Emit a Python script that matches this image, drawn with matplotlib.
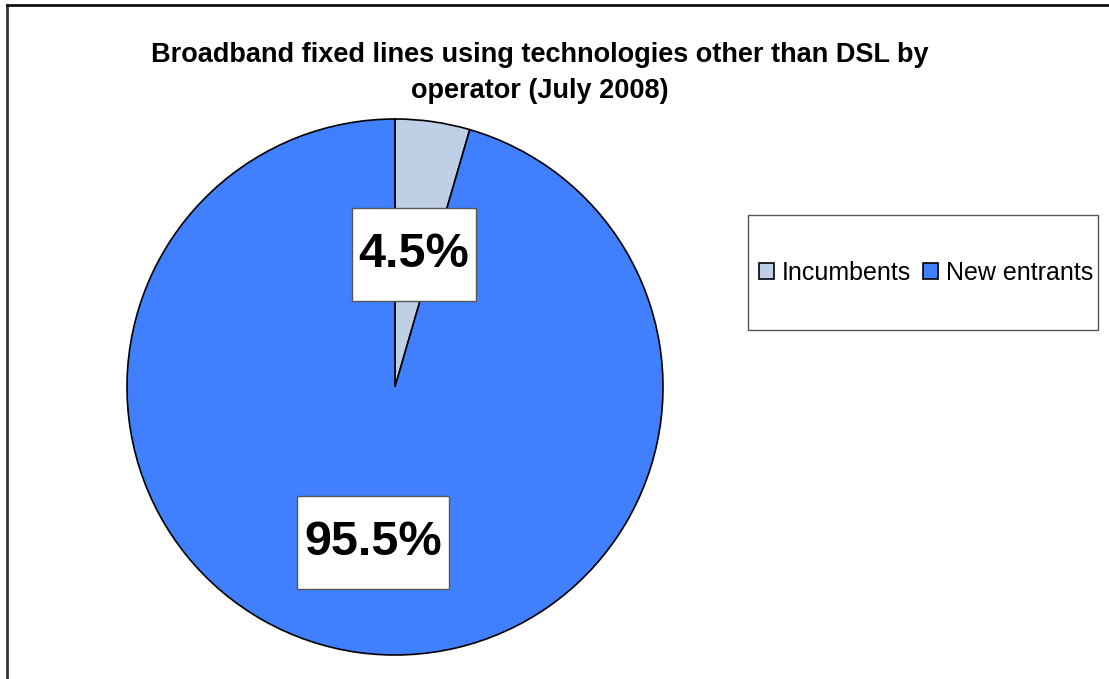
import numpy as np
import matplotlib
matplotlib.use('Agg')
import matplotlib.pyplot as plt
from matplotlib.patches import Rectangle
from matplotlib.lines import Line2D

plt.rcParams['font.family'] = ['Liberation Sans', 'DejaVu Sans']

# ------------------- data -------------------
labels = ['Incumbents', 'New entrants']
shares = [4.5, 95.5]
colors = ['#BFCFE6', '#4080FF']
label_dist = [0.50, 0.585]  # radial position of the % labels

title = 'Broadband fixed lines using technologies other than DSL by\noperator (July 2008)'

W, H = 1109, 679
fig = plt.figure(figsize=(W / 100, H / 100), dpi=100)
fig.patch.set_facecolor('white')

# chart border (only top and left are visible in the crop)
fig.add_artist(Line2D([6.5 / W, 6.5 / W], [0, 1 - 4.5 / H], transform=fig.transFigure, color='#333333', lw=2))
fig.add_artist(Line2D([6.5 / W, 1], [1 - 4.5 / H, 1 - 4.5 / H], transform=fig.transFigure, color='#111111', lw=2))

# pie axes
cx, cy, r = 395, 387, 268
ax = fig.add_axes([(cx - r) / W, (H - cy - r) / H, 2 * r / W, 2 * r / H])
ax.pie(shares, colors=colors, startangle=90, counterclock=False, radius=1,
       wedgeprops=dict(edgecolor='black', linewidth=1.2))
ax.set_xlim(-1, 1)
ax.set_ylim(-1, 1)
ax.set_aspect('equal')
ax.axis('off')

# percentage labels in white boxes
fig.canvas.draw()
renderer = fig.canvas.get_renderer()
start = 90
for s, d in zip(shares, label_dist):
    mid = np.deg2rad(start - s * 3.6 / 2)
    start -= s * 3.6
    disp = ax.transData.transform((d * np.cos(mid), d * np.sin(mid)))
    t = fig.text(disp[0] / W, disp[1] / H, f'{s:.1f}%', ha='center', va='center',
                 fontsize=35, fontweight='bold', zorder=10)
    bb = t.get_window_extent(renderer)
    padx, pady = 7, 24
    fig.add_artist(Rectangle((bb.x0 - padx, bb.y0 - pady), bb.width + 2 * padx, bb.height + 2 * pady,
                             transform=None, facecolor='white', edgecolor='#555555',
                             linewidth=1, zorder=4))

# title
fig.text(540 / W, 1 - 73 / H, title, ha='center', va='center', fontsize=19.5, fontweight='bold',
         linespacing=1.55)

# legend box
fig.add_artist(Rectangle((748 / W, 1 - 330 / H), (1098 - 748) / W, (330 - 215) / H,
                         transform=fig.transFigure, facecolor='white', edgecolor='#555555', lw=1))
handles = [Rectangle((0, 0), 1, 1, facecolor=c, edgecolor='black', lw=1.2) for c in colors]
fig.legend(handles, labels, loc='center', bbox_to_anchor=(926 / W, 1 - 273 / H), ncol=2,
           frameon=False, fontsize=18, handlelength=0.6, handleheight=0.6, handletextpad=0.3,
           columnspacing=0.5, borderpad=0, borderaxespad=0)

fig.savefig('out.png', dpi=100)
